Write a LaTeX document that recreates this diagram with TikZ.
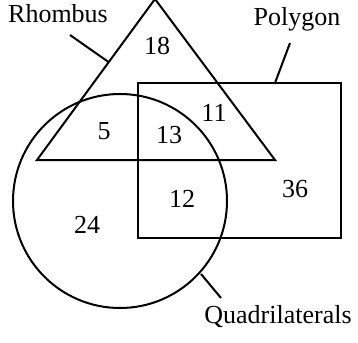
\documentclass[tikz,border=0pt]{standalone}
\usepackage{fontspec}
\setmainfont{Liberation Serif}
\usetikzlibrary{positioning}

\begin{document}
\begin{tikzpicture}[
  x=1pt,y=-1pt,
  font=\fontsize{26}{28}\selectfont,
  outline/.style={draw=black, line width=2pt},
  leader/.style={draw=black, line width=2pt},
  count/.style={inner sep=0pt},
  setname/.style={inner sep=0pt}
]
\useasboundingbox (0,0) rectangle (358,342);

% Sets
\draw[outline] (37,160) -- (155,-1) -- (275,160) -- cycle;
\draw[outline] (138,83) rectangle (341,238);
\draw[outline] (120,201) circle[radius=107];

% Points where the leaders touch
\coordinate (onrhombus) at (108.5,62);
\coordinate (onpolygon) at (275,83);
\coordinate (onquad) at (201,274);

% Set names
\node[setname] (rhombus) at (58,14) {Rhombus};
\node[setname] (polygon) at (297,19) {Polygon};
\node[setname] (quad) at (278,317) {Quadrilaterals};

\draw[leader] (70,35) -- (onrhombus);
\draw[leader] (290,43) -- (onpolygon);
\draw[leader] (221,298) -- (onquad);

% Counts
\node[count] (n18) at (157,46) {18};
\node[count] (n5) at (104,131) {5};
\node[count] (n13) at (169,135) {13};
\node[count] (n11) at (214,113) {11};
\node[count] (n12) at (182,199) {12};
\node[count] (n36) at (295,189) {36};
\node[count] (n24) at (87,225) {24};

\end{tikzpicture}
\end{document}
